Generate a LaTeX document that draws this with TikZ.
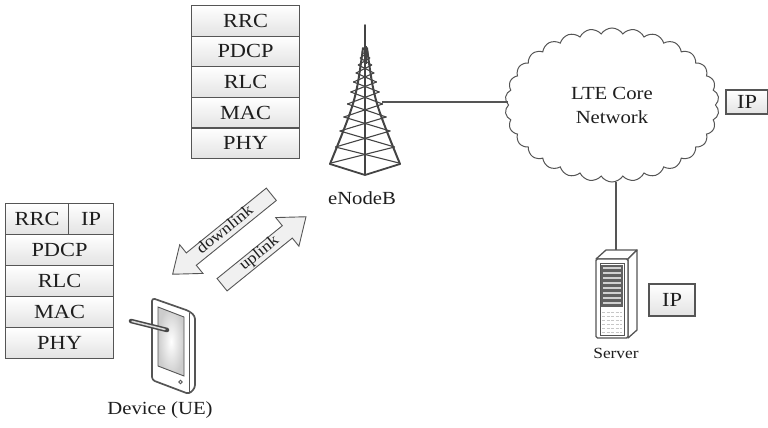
\documentclass[tikz,border=0pt]{standalone}
\usepackage{fontspec}
\setmainfont{Liberation Serif}[FakeStretch=1.12]
\usetikzlibrary{shapes.symbols,shapes.arrows,calc}

\definecolor{edge}{HTML}{555555}
\definecolor{ink}{HTML}{1E1E1E}

\tikzset{
  cell/.style={draw=edge, line width=1.1pt, top color=white, bottom color=black!11,
    minimum height=30.6pt, minimum width=108pt, inner sep=0pt, anchor=north west,
    text=ink, font=\fontsize{20}{20}\selectfont},
  ipbox/.style={cell, minimum width=44pt, minimum height=25pt, anchor=center},
  label/.style={text=ink, font=\fontsize{18.5}{21}\selectfont, inner sep=0pt},
  link/.style={draw=edge, line width=1.1pt},
  radio/.style={single arrow, draw=edge, fill=black!6, line width=0.9pt, rotate=39,
    single arrow head extend=10.5pt, single arrow tip angle=75,
    inner xsep=2pt, inner ysep=1.5pt, text height=9pt, text depth=3pt,
    text=ink, font=\fontsize{16}{16}\selectfont},
  towerline/.style={draw=edge!80!black, line width=1.1pt, line cap=round},
  declare function={xl(\y)=363-0.278*(\y-48); xr(\y)=367+0.278*(\y-48);}
}

\begin{document}
\begin{tikzpicture}[x=1pt, y=-1pt]
\useasboundingbox (0,0) rectangle (768,428);

% ---- protocol stack of the base station ----
\node[cell] (e-rrc)  at (191,5)     {RRC};
\node[cell] (e-pdcp) at (191,35.6)  {PDCP};
\node[cell] (e-rlc)  at (191,66.2)  {RLC};
\node[cell] (e-mac)  at (191,96.8)  {MAC};
\node[cell] (e-phy)  at (191,127.4) {PHY};

% ---- protocol stack of the device ----
\node[cell, minimum width=63pt] (u-rrc) at (5,203)   {RRC};
\node[cell, minimum width=45pt] (u-ip)  at (68,203)  {IP};
\node[cell] (u-pdcp) at (5,234)  {PDCP};
\node[cell] (u-rlc)  at (5,265)  {RLC};
\node[cell] (u-mac)  at (5,296)  {MAC};
\node[cell] (u-phy)  at (5,327)  {PHY};

% ---- eNodeB tower ----
\node[minimum width=72pt, minimum height=150pt, inner sep=0pt] (enb) at (365,100) {};
\draw[towerline, line width=1.8pt] (365,25) -- (365,174);
\draw[towerline, line width=3pt, line cap=butt] (365,46) -- (365,64);
\draw[towerline, line width=2pt] (363,48) .. controls (356,100) .. (330,164);
\draw[towerline, line width=2pt] (367,48) .. controls (374,100) .. (400,164);
\draw[towerline, line width=1.8pt] (330,164) -- (365,175) -- (400,164);
\foreach \ya/\yb in {52/58,58/65,65/73,73/82,82/92,92/104,104/117,117/131,131/147,147/163}{
  \draw[towerline, line width=1.1pt] ({xl(\ya)},\ya) -- ({xr(\yb)},\yb);
  \draw[towerline, line width=1.1pt] ({xr(\ya)},\ya) -- ({xl(\yb)},\yb);
}
\coordinate (enbport) at (382,102);
\node[label] (enb-label) at (362,198) {eNodeB};

% ---- core network ----
\node[cloud, draw=edge, line width=1pt, cloud puffs=30, cloud puff arc=115,
  cloud ignores aspect, minimum width=214pt, minimum height=154pt, inner sep=0pt,
  align=center, text=ink, font=\fontsize{18.5}{24}\selectfont]
  (core) at (612,105) {LTE Core\\Network};
\node[ipbox, minimum width=42pt, minimum height=24pt] (core-ip) at (747,102) {IP};

% ---- server ----
\node[minimum width=42pt, minimum height=88pt, inner sep=0pt] (server) at (616,294) {};
\draw[edge, line width=1.3pt, fill=white, line join=round] (596,259) -- (606,250) -- (637,250) -- (628,259) -- cycle;
\draw[edge, line width=1.3pt, fill=white, line join=round] (628,259) -- (637,250) -- (637,330) -- (628,338) -- cycle;
\draw[edge, line width=1.3pt, fill=white, rounded corners=1.5pt] (596,259) rectangle (628,338);
\draw[edge, line width=0.8pt] (600,263) rectangle (624,335);
\fill[black!62] (601,265) rectangle (623,307);
\foreach \y in {268,273,...,303}
  \draw[black!18, line width=1.2pt] (603,\y) -- (621,\y);
\foreach \y in {312,316,...,332}
  \draw[black!22, line width=0.8pt, dash pattern=on 3pt off 1.5pt] (602,\y) -- (622,\y);
\node[label, font=\fontsize{15.5}{15.5}\selectfont] (server-label) at (616,353) {Server};
\node[ipbox, minimum width=46pt, minimum height=32pt] (server-ip) at (672,300) {IP};

% ---- device (tablet with stylus) ----
\node[minimum width=44pt, minimum height=96pt, inner sep=0pt] (ue) at (173,346) {};
\draw[edge, line width=1.7pt, fill=white, rounded corners=3pt, line join=round]
  (152,298) -- (189,311) -- (195,316) -- (195,388) -- (189,394) -- (152,380) -- cycle;
\draw[edge, line width=0.9pt] (189,313) -- (189,392);
\shade[inner color=white, outer color=black!20, draw=edge, line width=0.9pt]
  (158,307) -- (184,317) -- (184,376) -- (158,366) -- cycle;
\draw[edge, line width=0.8pt] (180.5,382) circle (1.8pt);
\draw[edge!85!black, line width=4.5pt, line cap=round] (131,321) -- (167,330);
\draw[black!15, line width=1.5pt, line cap=round] (132,321.3) -- (165,329.5);
\node[label] (ue-label) at (160,410) {Device (UE)};

% ---- radio links ----
\node[radio, minimum height=127pt, shape border rotate=180] (down) at (226,231) {downlink};
\node[radio, minimum height=108pt] (up) at (260,254) {uplink};

% ---- connectors ----
\draw[link] (enbport) -- (enbport -| core.west);
\draw[link] (server.north |- core.south) -- (server.north);
\end{tikzpicture}
\end{document}
